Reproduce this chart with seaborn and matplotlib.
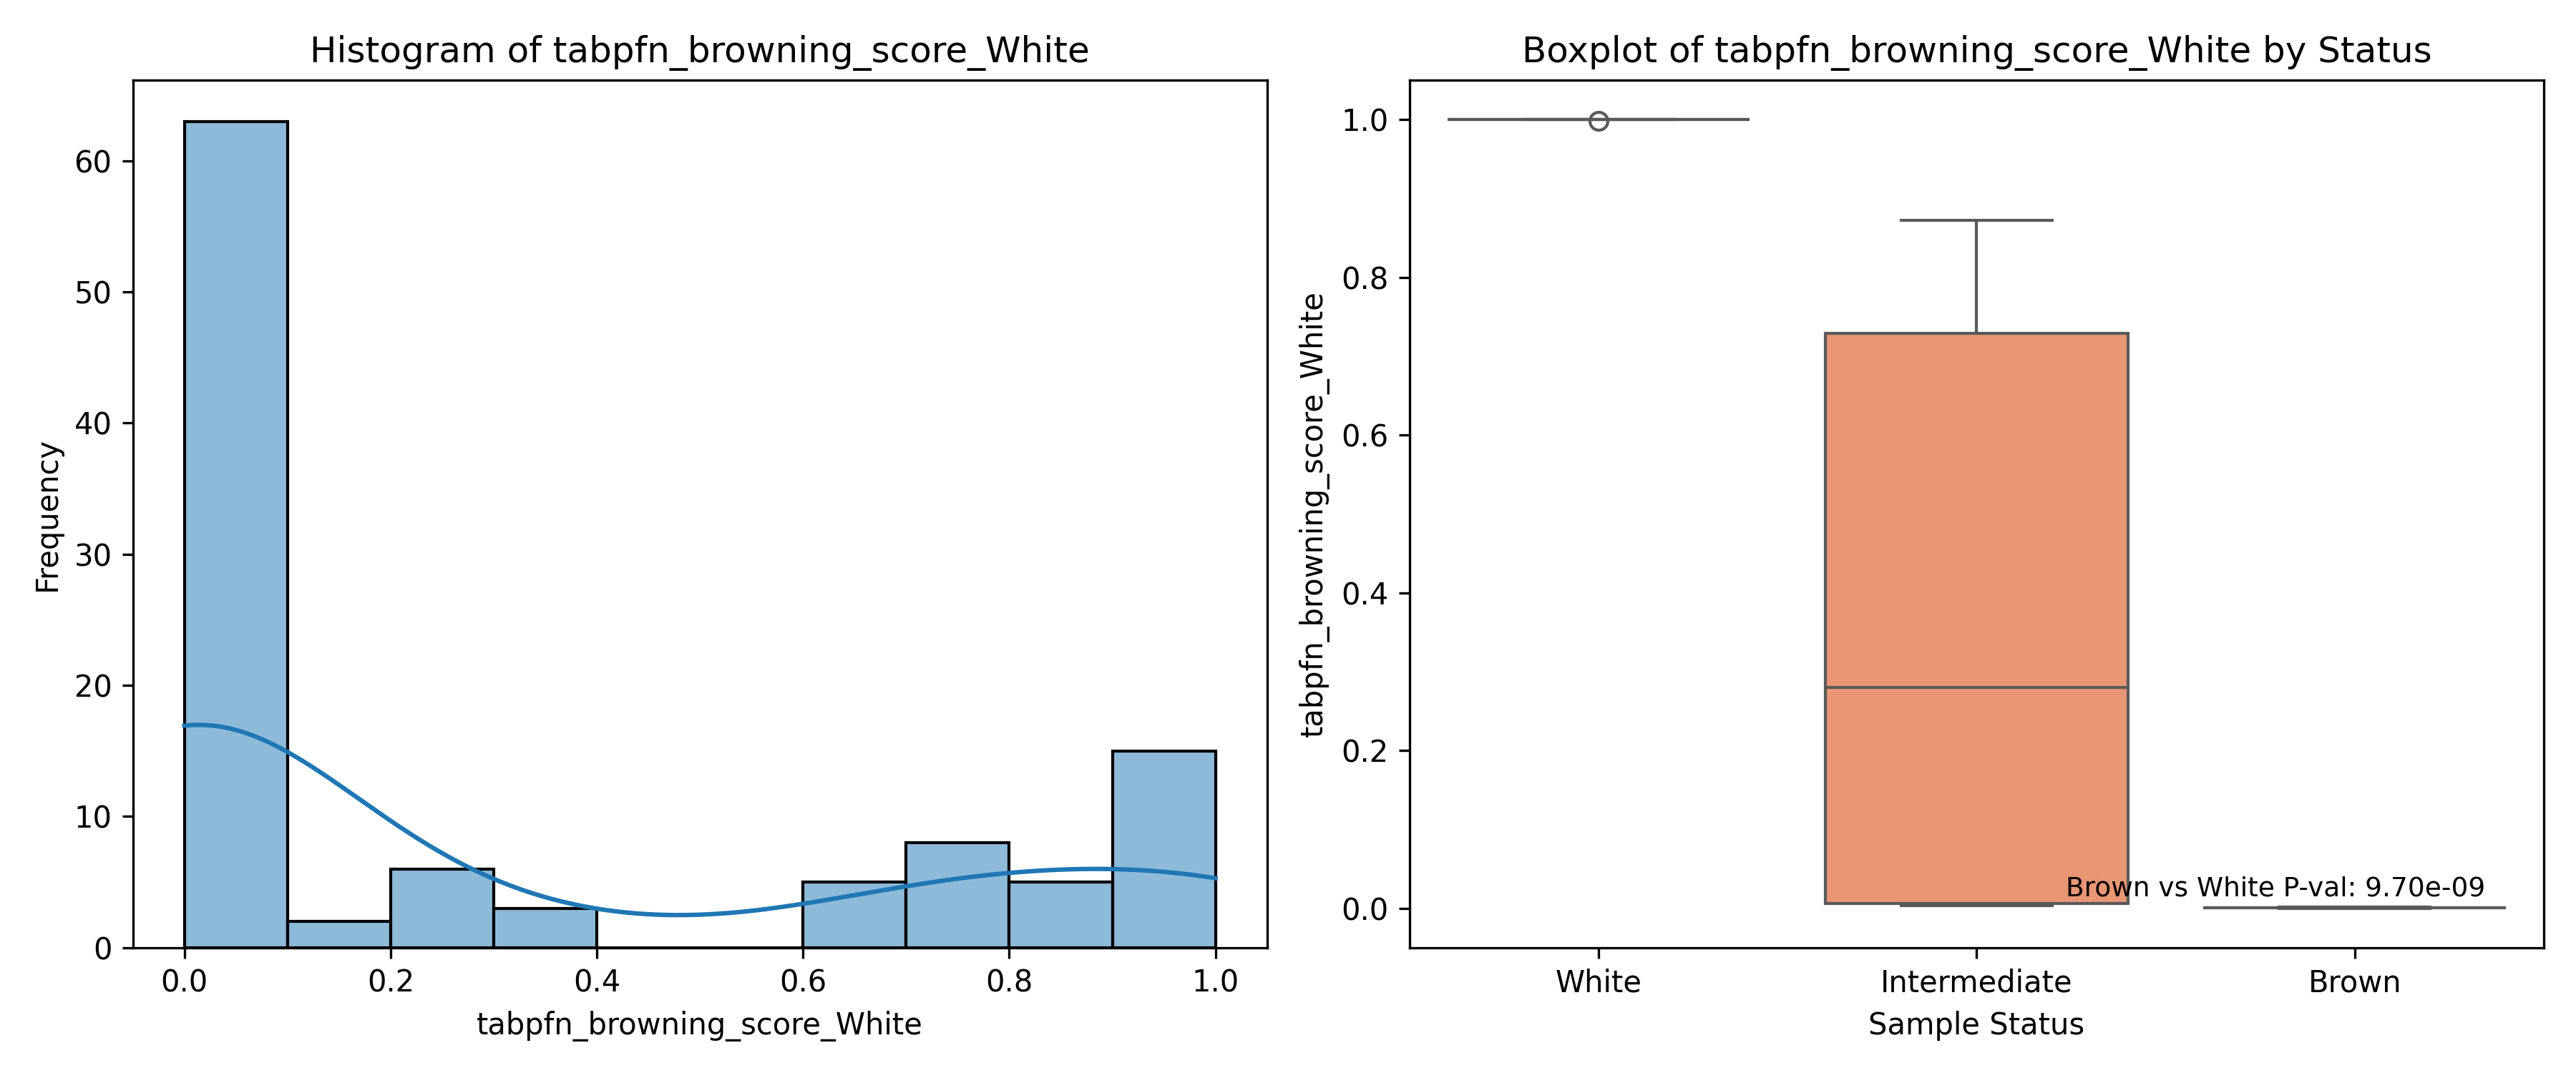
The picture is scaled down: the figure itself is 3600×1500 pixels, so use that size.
import pandas as pd
import matplotlib
matplotlib.use("Agg")
import matplotlib.pyplot as plt
import seaborn as sns

score_col = "tabpfn_browning_score_White"
status_order = ["White", "Intermediate", "Brown"]

# scores per sample status
white_scores = [1.0, 1.0, 1.0, 1.0, 1.0, 1.0, 1.0, 1.0, 1.0, 1.0, 1.0, 1.0, 1.0, 1.0, 0.998]

intermediate_scores = [0.003, 0.003, 0.004, 0.004, 0.004, 0.005, 0.005, 0.005, 0.005, 0.005,
                       0.005, 0.006, 0.008, 0.012, 0.03,
                       0.13, 0.18,
                       0.21, 0.22, 0.24, 0.26, 0.275, 0.285,
                       0.31, 0.34, 0.37,
                       0.62, 0.64, 0.66, 0.68, 0.69,
                       0.71, 0.728, 0.732, 0.745, 0.755, 0.77, 0.78, 0.79,
                       0.81, 0.82, 0.84, 0.855, 0.872]

brown_scores = [0.0, 0.0, 0.0, 0.0, 0.0001, 0.0001, 0.0001, 0.0002, 0.0002, 0.0002,
                0.0002, 0.0003, 0.0003, 0.0003, 0.0003, 0.0004, 0.0004, 0.0004, 0.0004, 0.0005,
                0.0005, 0.0005, 0.0005, 0.0006, 0.0006, 0.0006, 0.0006, 0.0007, 0.0007, 0.0007,
                0.0007, 0.0008, 0.0008, 0.0008, 0.0008, 0.0009, 0.0009, 0.0009, 0.001, 0.001,
                0.001, 0.0011, 0.0011, 0.0012, 0.0012, 0.0013, 0.0014, 0.0015]

p_val_text = "Brown vs White P-val: 9.70e-09"

#building dataframe
df = pd.DataFrame({
    "Status": ["White"] * len(white_scores) + ["Intermediate"] * len(intermediate_scores)
              + ["Brown"] * len(brown_scores),
    score_col: white_scores + intermediate_scores + brown_scores,
})

fig, axes = plt.subplots(1, 2, figsize=(12, 5))

#histogram with kde
sns.histplot(df[score_col], bins=10, kde=True, edgecolor="black", ax=axes[0])
axes[0].set_title(f"Histogram of {score_col}")
axes[0].set_xlabel(score_col)
axes[0].set_ylabel("Frequency")

#boxplot by status
sns.boxplot(data=df, x="Status", y=score_col, hue="Status", order=status_order,
            hue_order=status_order, palette="Set2", legend=False, ax=axes[1])
axes[1].set_title(f"Boxplot of {score_col} by Status")
axes[1].set_xlabel("Sample Status")
axes[1].set_ylabel(score_col)
axes[1].text(2.345, 0.008, p_val_text, ha="right", va="bottom", fontsize=9)

plt.tight_layout()
plt.savefig("out.png", dpi=300)
